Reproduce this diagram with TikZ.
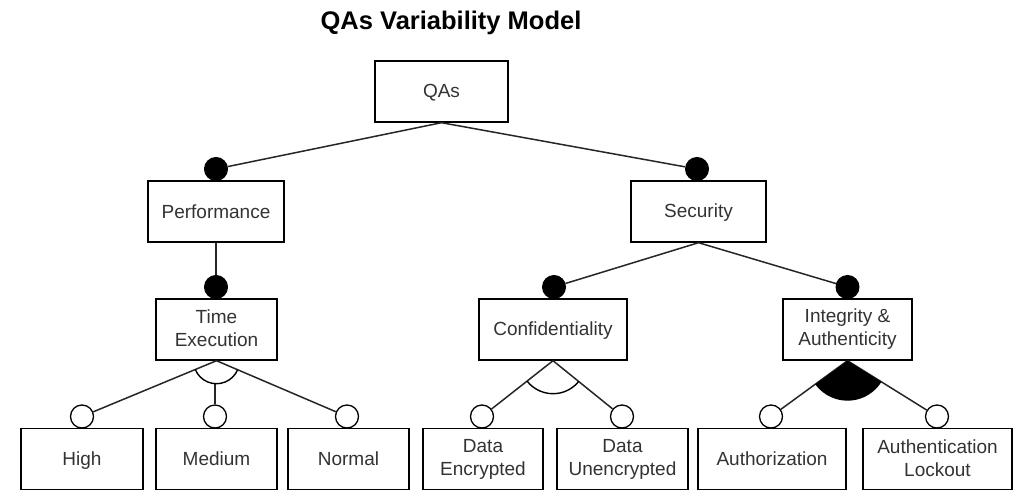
\documentclass[tikz,border=0pt]{standalone}
\usepackage{fontspec}
\setmainfont{Liberation Sans}
\newcommand{\topstr}{\rule{0pt}{16pt}}
\newcommand{\botstr}{\rule[-2.4pt]{0pt}{2.4pt}}
\begin{document}
\begin{tikzpicture}[x=1pt,y=-1pt,
  feat/.style={draw=black, line width=1.4pt, fill=white, align=center, inner sep=0pt,
    minimum height=61pt, text=black!80, font=\fontsize{19}{23}\selectfont,
    execute at begin node={\topstr}, execute at end node={\botstr}},
  mand/.style={circle, fill=black, draw=black, line width=1pt, minimum size=23pt, inner sep=0pt},
  opt/.style={circle, fill=white, draw=black, line width=1.3pt, minimum size=23pt, inner sep=0pt},
  conn/.style={line width=1.5pt, black!85},
  grp/.style={line width=1.4pt, black}]
\useasboundingbox (0,0) rectangle (1017,498);
% title
\node[font=\fontsize{25.5}{30}\selectfont\bfseries] (title) at (451,23) {QAs Variability Model};
% feature boxes
\node[feat, minimum width=133pt] (qa) at (441.5,91.5) {QAs};
\node[feat, minimum width=136pt] (perf) at (216,211.5) {Performance};
\node[feat, minimum width=135pt] (sec) at (698.5,211.5) {Security};
\node[feat, minimum width=121pt] (te) at (216.5,329.5) {Time\\Execution};
\node[feat, minimum width=148pt] (conf) at (553,329.5) {Confidentiality};
\node[feat, minimum width=129pt] (ia) at (847.5,329.5) {Integrity \&\\Authenticity};
\node[feat, minimum width=122pt] (high) at (82,459) {High};
\node[feat, minimum width=121pt] (med) at (216.5,459) {Medium};
\node[feat, minimum width=121pt] (norm) at (348.5,459) {Normal};
\node[feat, minimum width=120pt] (denc) at (483,459) {Data\\Encrypted};
\node[feat, minimum width=131pt] (dunc) at (622.5,459) {Data\\Unencrypted};
\node[feat, minimum width=148pt] (auth) at (772,459) {Authorization};
\node[feat, minimum width=149pt] (lock) at (937.5,459) {Authentication\\Lockout};
% mandatory markers
\node[mand] (mperf) at (216,169) {};
\node[mand] (msec) at (697,169) {};
\node[mand] (mte) at (216,287) {};
\node[mand] (mconf) at (554,287) {};
\node[mand] (mia) at (847.5,287) {};
% optional markers
\node[opt] (ohigh) at (82,416.5) {};
\node[opt] (omed) at (215,416.5) {};
\node[opt] (onorm) at (347,416.5) {};
\node[opt] (odenc) at (482,416.5) {};
\node[opt] (odunc) at (622,416.5) {};
\node[opt] (oauth) at (771,416.5) {};
\node[opt] (olock) at (937,416.5) {};
% connectors
\draw[conn] (qa.south) -- (mperf);
\draw[conn] (qa.south) -- (msec);
\draw[conn] (perf.south) -- (mte);
\draw[conn] (sec.south) -- (mconf);
\draw[conn] (sec.south) -- (mia);
\draw[conn] (te.south) -- (ohigh);
\draw[conn] (te.south) -- (onorm);
\draw[conn] (conf.south) -- (odenc);
\draw[conn] (conf.south) -- (odunc);
\draw[conn] (ia.south) -- (oauth);
\draw[conn] (ia.south) -- (olock);
% group arcs
\coordinate (mtop) at (215,383);
\draw[conn] (mtop) -- (omed);
\draw[grp] ([shift={(202.6:23pt)}]te.south) arc[start angle=202.6, end angle=336.8, radius=23pt];
\draw[grp] ([shift={(218.3:33pt)}]conf.south) arc[start angle=218.3, end angle=320.9, radius=33pt];
\fill[black] (ia.south) -- ([shift={(216.2:40pt)}]ia.south) arc[start angle=216.2, end angle=328, radius=40pt] -- cycle;
\end{tikzpicture}
\end{document}
